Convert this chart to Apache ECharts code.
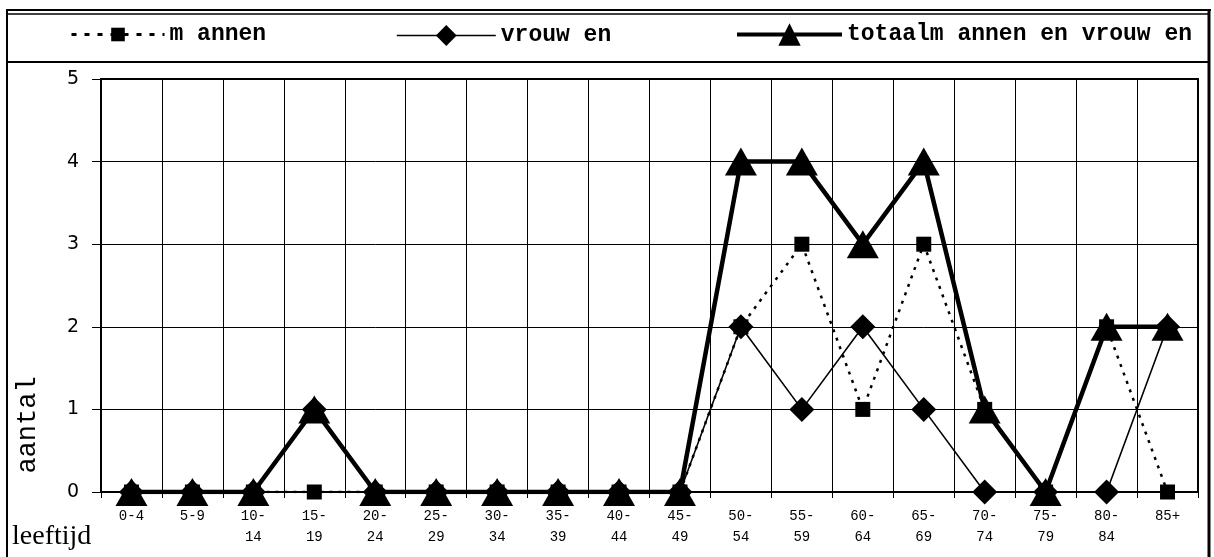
<!DOCTYPE html>
<html>
<head>
<meta charset="utf-8">
<script src="https://cdn.jsdelivr.net/npm/echarts@6/dist/echarts.min.js"></script>
<style>
  html, body { margin: 0; padding: 0; background: #fff; }
  #chart { width: 1214px; height: 557px; }
</style>
</head>
<body>
<div id="chart"></div>
<script>
// Age groups (leeftijd) on the x axis
const categories = ['0-4', '5-9', '10-\n14', '15-\n19', '20-\n24', '25-\n29', '30-\n34', '35-\n39',
  '40-\n44', '45-\n49', '50-\n54', '55-\n59', '60-\n64', '65-\n69', '70-\n74', '75-\n79', '80-\n84', '85+'];

// Counts (aantal) per age group
const mannen  = [0, 0, 0, 0, 0, 0, 0, 0, 0, 0, 2, 3, 1, 3, 1, 0, 2, 0];
const vrouwen = [0, 0, 0, 1, 0, 0, 0, 0, 0, 0, 2, 1, 2, 1, 0, 0, 0, 2];
const totaal  = [0, 0, 0, 1, 0, 0, 0, 0, 0, 0, 4, 4, 3, 4, 1, 0, 2, 2];

const seriesNames = ['m annen', 'vrouw en', 'totaalm annen en vrouw en'];
const yTicks = [0, 1, 2, 3, 4, 5];

const chart = echarts.init(document.getElementById('chart'), null, { renderer: 'canvas' });

const legendText = { color: '#000', fontFamily: 'Liberation Mono', fontWeight: 'bold', fontSize: 23 };

chart.setOption({
  animation: false,
  backgroundColor: '#fff',
  grid: {
    left: 101, right: 16, top: 79, bottom: 65,
    show: true, borderColor: '#000', borderWidth: 2
  },
  legend: [
    { data: [seriesNames[0]], left: 65, top: 18, itemWidth: 93, itemHeight: 17, textStyle: legendText,
      lineStyle: { width: 3, type: [5, 8] } },
    { data: [seriesNames[1]], left: 391, top: 19, itemWidth: 99, itemHeight: 26, textStyle: legendText,
      lineStyle: { width: 1.6 } },
    { data: [seriesNames[2]], left: 730, top: 18, itemWidth: 105, itemHeight: 28, textStyle: legendText,
      lineStyle: { width: 4 } }
  ],
  xAxis: {
    type: 'category',
    data: categories,
    boundaryGap: true,
    axisLine: { lineStyle: { color: '#000', width: 2 } },
    axisTick: { show: true, length: 6, lineStyle: { color: '#000', width: 1 } },
    splitLine: { show: true, lineStyle: { color: '#000', width: 1 } },
    axisLabel: {
      color: '#000', fontFamily: 'Liberation Mono', fontSize: 14, lineHeight: 21,
      margin: 14, interval: 0
    }
  },
  yAxis: {
    type: 'value',
    min: yTicks[0], max: yTicks[yTicks.length - 1], interval: 1,
    axisLine: { show: true, lineStyle: { color: '#000', width: 2 } },
    axisTick: { show: true, length: 9, lineStyle: { color: '#000', width: 1 } },
    splitLine: { show: true, lineStyle: { color: '#000', width: 1 } },
    axisLabel: { color: '#000', fontFamily: 'DejaVu Sans', fontSize: 19, margin: 22 }
  },
  series: [
    {
      name: seriesNames[0], type: 'line', data: mannen, z: 2,
      symbol: 'rect', symbolSize: 15,
      lineStyle: { color: '#000', width: 2.5, type: [3, 6] },
      itemStyle: { color: '#000' }
    },
    {
      name: seriesNames[1], type: 'line', data: vrouwen, z: 3,
      symbol: 'diamond', symbolSize: 25,
      lineStyle: { color: '#000', width: 1.6 },
      itemStyle: { color: '#000' }
    },
    {
      name: seriesNames[2], type: 'line', data: totaal, z: 4,
      symbol: 'triangle', symbolSize: [32, 28],
      lineStyle: { color: '#000', width: 4.5 },
      itemStyle: { color: '#000' }
    }
  ],
  graphic: [
    // outer frame and legend box
    { type: 'line', shape: { x1: 6, y1: 10, x2: 1211, y2: 10 }, style: { stroke: '#000', lineWidth: 2 } },
    { type: 'line', shape: { x1: 6, y1: 14, x2: 1209, y2: 14 }, style: { stroke: '#000', lineWidth: 1.5 } },
    { type: 'line', shape: { x1: 6, y1: 62, x2: 1209, y2: 62 }, style: { stroke: '#000', lineWidth: 2 } },
    { type: 'line', shape: { x1: 7, y1: 9, x2: 7, y2: 557 }, style: { stroke: '#000', lineWidth: 2 } },
    { type: 'line', shape: { x1: 1209, y1: 9, x2: 1209, y2: 557 }, style: { stroke: '#000', lineWidth: 3 } },
    // axis titles
    {
      type: 'text', x: 28, y: 425, rotation: Math.PI / 2,
      style: { text: 'aantal', fill: '#000', font: '27px "Liberation Mono"', align: 'center', verticalAlign: 'middle' }
    },
    {
      type: 'text', x: 12, y: 537,
      style: { text: 'leeftijd', fill: '#000', font: '28px "Liberation Serif"', align: 'left', verticalAlign: 'middle' }
    }
  ]
});
</script>
</body>
</html>
